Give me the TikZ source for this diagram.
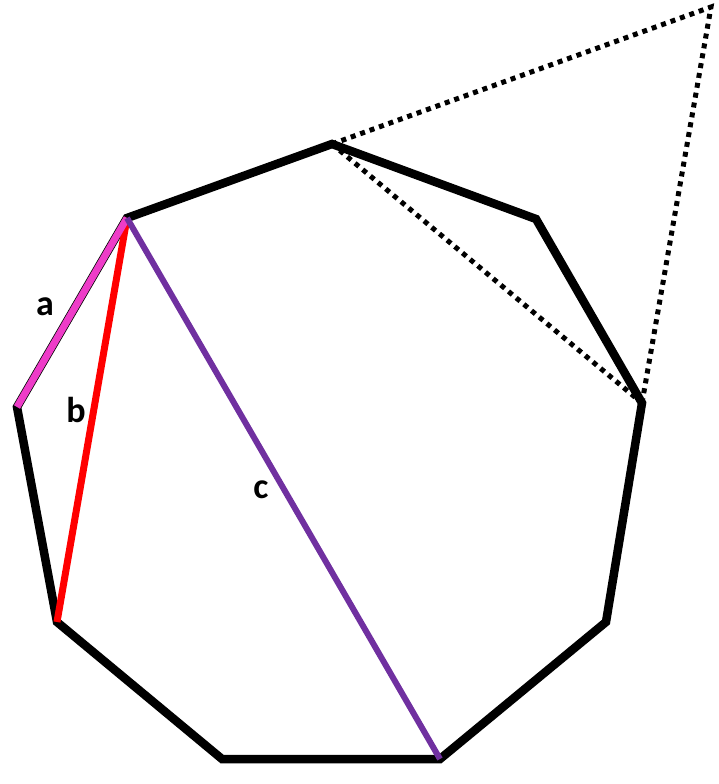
\documentclass[tikz,border=0pt]{standalone}
\usepackage{fontspec}
\setsansfont{Carlito}
\usepackage{tikz}
\usetikzlibrary{calc}
\definecolor{sidepink}{RGB}{238,60,200}
\definecolor{diagpurple}{RGB}{112,48,160}
\tikzstyle{polyside}=[line width=8.5pt, black]
\tikzstyle{dotline}=[line width=5pt, black, dash pattern=on 5pt off 5pt]
\tikzstyle{lab}=[font=\sffamily\bfseries\fontsize{36}{36}\selectfont, inner sep=0pt]

\begin{document}
\begin{tikzpicture}[x=1pt, y=-1pt]
\useasboundingbox (0,0) rectangle (719,784);
% corners of the nonagon
\coordinate (p1) at (332,144);
\coordinate (p2) at (536,219);
\coordinate (p3) at (642,403);
\coordinate (p4) at (606,622);
\coordinate (p5) at (440,759);
\coordinate (p6) at (222,759);
\coordinate (p7) at (57,622);
\coordinate (p8) at (17,407);
\coordinate (p9) at (127,218);
\coordinate (apex) at (711,7);
% dotted triangle
\draw[dotline] (p1) -- (apex) -- (p3);
\draw[dotline] (p1) -- (p3);
% the polygon
\draw[polyside] (p1) -- (p2) -- (p3) -- (p4) -- (p5) -- (p6) -- (p7) -- (p8) -- (p9) -- cycle;
% side and diagonals
\draw[line width=7pt, red] (p7) -- (p9);
\draw[line width=7pt, sidepink] (p8) -- (p9);
\draw[line width=6pt, diagpurple] (p9) -- (p5);
\node[lab] (la) at (45,307) {a};
\node[lab] (lb) at (76,410) {b};
\node[lab] (lc) at (261,490) {c};
\end{tikzpicture}
\end{document}
